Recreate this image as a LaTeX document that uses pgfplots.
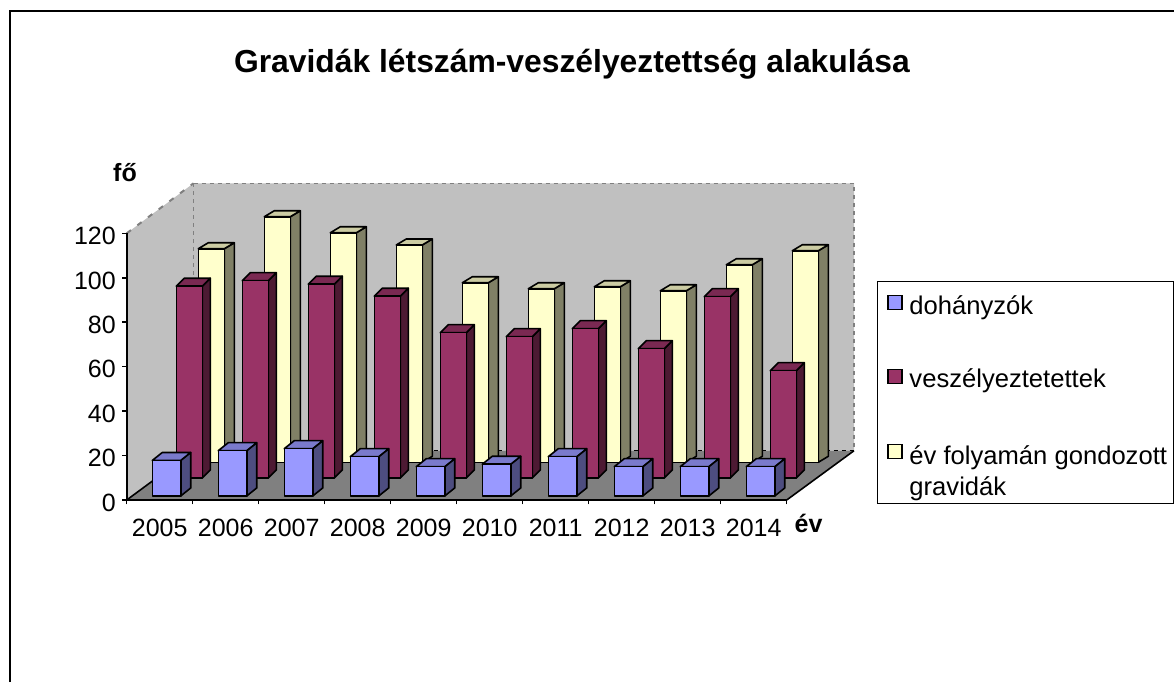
\documentclass[border=0pt]{standalone}
\usepackage{fontspec}
\setmainfont{Liberation Sans}
\usepackage{pgfplots}
\usepackage{pgfplotstable}
\pgfplotsset{compat=1.18}

\definecolor{wall}{RGB}{192,192,192}
\definecolor{floorc}{RGB}{128,128,128}
\definecolor{blueF}{RGB}{153,153,255}
\definecolor{blueT}{RGB}{122,122,204}
\definecolor{blueS}{RGB}{77,77,128}
\definecolor{redF}{RGB}{153,51,102}
\definecolor{redT}{RGB}{122,41,82}
\definecolor{redS}{RGB}{77,26,51}
\definecolor{yelF}{RGB}{255,255,204}
\definecolor{yelT}{RGB}{204,204,163}
\definecolor{yelS}{RGB}{128,128,102}

\pgfdeclareplotmark{nothing}{}

% front, top, side colour, left offset, base height, width, depth x, depth y (all in px)
\newcommand\threedbar[8]{%
  \pgfmathsetmacro\h{\rawy*2.2222}%
  \pgfmathsetmacro\bot{#5-\h}%
  \pgfmathsetmacro\rgt{#4+#6}%
  \pgfmathsetmacro\rr{#4+#6+#7}%
  \pgfmathsetmacro\ll{#4+#7}%
  \pgfmathsetmacro\tt{#5+#8}%
  \pgfmathsetmacro\bb{\bot+#8}%
  \begin{scope}[x=0.75pt,y=0.75pt,draw=black,line width=1.2pt,line join=round]
    \filldraw[fill=#3] (\rgt,#5)--(\rr,\tt)--(\rr,\bb)--(\rgt,\bot)--cycle;
    \filldraw[fill=#2] (#4,#5)--(\ll,\tt)--(\rr,\tt)--(\rgt,#5)--cycle;
    \filldraw[fill=#1] (#4,\bot) rectangle (\rgt,#5);
  \end{scope}%
}

\pgfplotsset{
  bars3d/.style n args={8}{
    scatter, only marks, mark=nothing, clip=false,
    visualization depends on={y \as \rawy},
    scatter/@pre marker code/.code={\threedbar{#1}{#2}{#3}{#4}{#5}{#6}{#7}{#8}},
    scatter/@post marker code/.code={},
    legend image code/.code={\draw[black,line width=1.1pt,fill=#1] (0pt,-3pt) rectangle (10.5pt,7.5pt);},
  },
}

\pgfplotstableread{
year  doh   vesz  gond
2005  16.0  86.3  96.1
2006  20.4  88.8  110.5
2007  21.3  87.2  103.3
2008  17.7  81.8  97.8
2009  13.2  65.4  80.8
2010  14.3  63.6  78.1
2011  17.7  67.2  79.0
2012  13.2  58.2  77.2
2013  13.2  81.6  88.9
2014  13.2  48.3  95.2
}\gravtable

\begin{document}
\begin{tikzpicture}[x=0.75pt,y=-0.75pt]
  \path[use as bounding box] (0,0) rectangle (1174,682);
  % outer frame, only top and left are visible
  \draw[black,line width=1.5pt] (9.5,682)--(9.5,11)--(1174,11);
  % walls and floor
  \fill[wall] (126.7,233.3)--(193.5,183.3)--(854,183.3)--(854,450.7)--(193.5,450.7)--(126.7,500)--cycle;
  \fill[floorc] (126.7,500)--(193.5,450.7)--(854,450.7)--(786.7,500)--cycle;
  \draw[floorc,line width=1pt,dash pattern=on 3pt off 3pt]
    (193.5,183.3)--(854,183.3)--(854,450.7)
    (193.5,183.3)--(193.5,450.7);
  \draw[floorc,line width=1.5pt,dash pattern=on 4pt off 6pt] (126.7,233.3)--(193.5,183.3);
  \draw[black,line width=1pt,dash pattern=on 3pt off 3pt] (193.5,450.7)--(854,450.7);
  \draw[black,line width=1.2pt] (126.7,500)--(193.5,450.7) (786.7,500)--(854,450.7);
  % legend frame
  \draw[black,line width=0.9pt] (877.3,281.7) rectangle (1173.3,503.3);
  % title and axis names
  \node[anchor=base,font=\fontsize{23.87}{28}\selectfont\bfseries] at (572,72) {Gravidák létszám-veszélyeztettség alakulása};
  \node[anchor=base,font=\fontsize{18.75}{22}\selectfont\bfseries] at (125,181) {fő};
  \node[anchor=base,font=\fontsize{18.75}{22}\selectfont\bfseries] at (808.5,532.7) {év};

  \begin{axis}[
    at={(95.025pt,-375pt)}, anchor=origin,
    scale only axis,
    width=495pt, height=200pt,
    xmin=2005, xmax=2015, ymin=0, ymax=120,
    axis x line=bottom, axis y line=left,
    axis line style={-,black,line width=1.2pt},
    tick align=outside,
    major tick length=3.2pt,
    tick style={black,line width=1.1pt},
    xtick={2005,...,2015}, xticklabels={},
    extra x ticks={2005.5,2006.5,2007.5,2008.5,2009.5,2010.5,2011.5,2012.5,2013.5,2014.5},
    extra x tick labels={2005,2006,2007,2008,2009,2010,2011,2012,2013,2014},
    extra x tick style={major tick length=0pt,tick style={draw=none}},
    ytick={0,20,...,120},
    ticklabel style={font=\fontsize{18.75}{22}\selectfont},
    /pgf/number format/assume math mode=true,
    yticklabel style={xshift=-1.5pt,yshift=-2pt},
    xticklabel style={yshift=-10.5pt},
    reverse legend,
    legend cell align=left,
    legend style={at={(1.146,0.789)},anchor=north west,draw=none,fill=none,
      font=\fontsize{19.2}{23.25}\selectfont,
      row sep=35.6pt,column sep=3pt},
  ]
    \addplot[bars3d={yelF}{yelT}{yelS}{71.6}{37.7}{26}{10}{6}] table[x=year,y=gond] {\gravtable};
    \addlegendentry{\begin{tabular}[t]{@{}l@{}}év folyamán gondozott\\gravidák\end{tabular}}
    \addplot[bars3d={redF}{redT}{redS}{49.6}{22}{26}{8}{8}] table[x=year,y=vesz] {\gravtable};
    \addlegendentry{veszélyeztetettek}
    \addplot[bars3d={blueF}{blueT}{blueS}{25.6}{4}{28.4}{10}{8}] table[x=year,y=doh] {\gravtable};
    \addlegendentry{dohányzók}
  \end{axis}
\end{tikzpicture}
\end{document}
